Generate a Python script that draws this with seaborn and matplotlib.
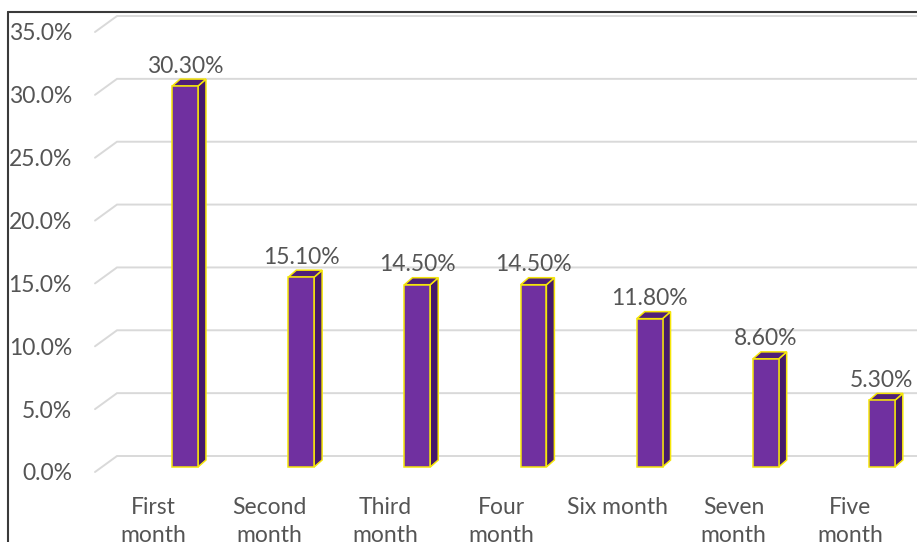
import matplotlib
matplotlib.use("Agg")
import matplotlib.pyplot as plt
from matplotlib.lines import Line2D
from matplotlib.patches import Polygon
import seaborn as sns

categories = ["First\nmonth", "Second\nmonth", "Third\nmonth", "Four\nmonth",
              "Six month", "Seven\nmonth", "Five\nmonth"]
values = [30.3, 15.1, 14.5, 14.5, 11.8, 8.6, 5.3]
y_ticks = [0, 5, 10, 15, 20, 25, 30, 35]
y_tick_labels = [f"{t:.1f}%" for t in y_ticks]

sns.set_style("white")
plt.rcParams["font.family"] = ["Lato", "DejaVu Sans"]

W, H = 917, 542
fig = plt.figure(figsize=(W / 100, H / 100), dpi=100)

# front plane of the pseudo-3D plot area, in pixels
ax_l, ax_r, ax_b, ax_t = 95, 908, 472, 32
ax = fig.add_axes([ax_l / W, 1 - ax_b / H, (ax_r - ax_l) / W, (ax_b - ax_t) / H])
ax.set_xlim(-0.5, len(categories) - 0.5)
ax.set_ylim(0, 35)

# pixel -> data unit conversions
ux = len(categories) / (ax_r - ax_l)
uy = 35 / (ax_b - ax_t)

front = "#7030a0"
side = "#45196a"
top = "#4f1f78"
edge = "#f5e60a"
grid_c = "#d9d9d9"
text_c = "#555555"
fs = 16.5

# back-wall gridlines with a perspective step at the left
wall_dx, wall_dy = 22, 16
x_front = -0.5
x_back = x_front + wall_dx * ux
x_end = x_front + (W - ax_l) * ux
for t in y_ticks:
    ax.plot([x_front, x_back, x_end], [t, t + wall_dy * uy, t + wall_dy * uy],
            color=grid_c, lw=1.4, clip_on=False, zorder=0.5,
            solid_joinstyle="miter")

sns.barplot(x=categories, y=values, color=front, saturation=1, width=0.222,
            edgecolor=edge, linewidth=1.1, ax=ax, zorder=3)

# bars sit a little deeper than the front plane
shift_x, shift_y = 32 * ux, 5 * uy
depth_x, depth_y = 8 * ux, 7 * uy
for p, v in zip(ax.patches, values):
    p.set_x(p.get_x() + shift_x)
    p.set_y(p.get_y() + shift_y)
    x0 = p.get_x()
    x1 = x0 + p.get_width()
    y0 = p.get_y()
    y1 = y0 + p.get_height()
    ax.add_patch(Polygon([(x1, y0), (x1 + depth_x, y0 + depth_y),
                          (x1 + depth_x, y1 + depth_y), (x1, y1)],
                         closed=True, facecolor=side, edgecolor=edge,
                         lw=1.1, zorder=2.9, clip_on=False))
    ax.add_patch(Polygon([(x0, y1), (x1, y1), (x1 + depth_x, y1 + depth_y),
                          (x0 + depth_x, y1 + depth_y)],
                         closed=True, facecolor=top, edgecolor=edge,
                         lw=1.1, zorder=2.9, clip_on=False))
    ax.text((x0 + x1) / 2, y1 + 13.5 * uy, f"{v:.2f}%", ha="center",
            va="baseline", fontsize=fs, color=text_c, zorder=4)

ax.set_yticks(y_ticks)
ax.set_yticklabels(y_tick_labels)
ax.tick_params(axis="y", length=0, pad=16.6, labelsize=fs, labelcolor=text_c)
ax.tick_params(axis="x", length=0, pad=18, labelsize=fs, labelcolor=text_c)
for lbl in ax.get_xticklabels():
    lbl.set_linespacing(1.4)
ax.set_xlabel("")
ax.set_ylabel("")
for s in ax.spines.values():
    s.set_visible(False)
ax.set_facecolor("none")

# outer frame of the chart area
fx, fy = 8 / W, 1 - 12 / H
fig.add_artist(Line2D([fx, fx], [0, fy], color="#3a3a3a", lw=1.5))
fig.add_artist(Line2D([fx, 1], [fy, fy], color="#3a3a3a", lw=1.5))

fig.savefig("out.png", dpi=100)
